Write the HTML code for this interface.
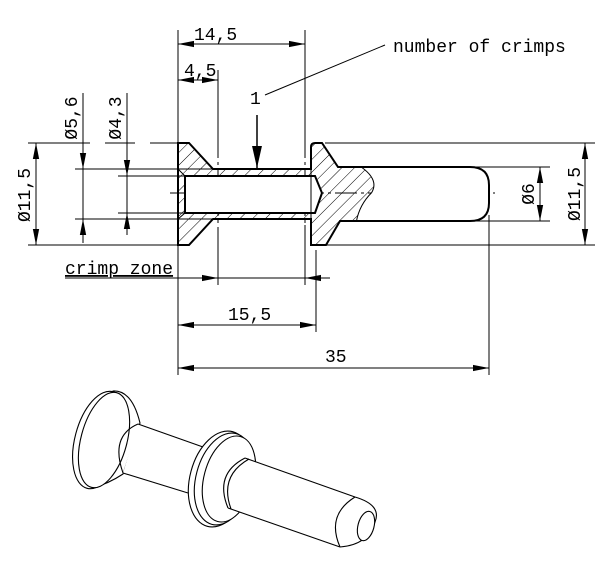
<!DOCTYPE html>
<html><head><style>html,body{margin:0;padding:0;background:#fff}svg{display:block}text{font-family:"Liberation Mono",monospace;font-size:18px;fill:#000}</style></head>
<body>
<svg width="609" height="581" viewBox="0 0 609 581" xmlns="http://www.w3.org/2000/svg">
<defs>
<pattern id="h" patternUnits="userSpaceOnUse" width="9" height="9" patternTransform="rotate(45)"><line x1="0" y1="0" x2="0" y2="9" stroke="#000" stroke-width="1"/></pattern>
<marker id="a" viewBox="0 0 10 10" refX="10" refY="5" markerWidth="16" markerHeight="7" markerUnits="userSpaceOnUse" orient="auto-start-reverse" preserveAspectRatio="none"><path d="M0,0.5 L10,5 L0,9.5 Z" fill="#000"/></marker>
<marker id="b" viewBox="0 0 10 10" refX="10" refY="5" markerWidth="22" markerHeight="11" markerUnits="userSpaceOnUse" orient="auto" preserveAspectRatio="none"><path d="M0,0.5 L10,5 L0,9.5 Z" fill="#000"/></marker>
</defs>
<g stroke="#000" stroke-width="1" fill="none">
<line x1="178" y1="30" x2="178" y2="375"/>
<line x1="305" y1="30" x2="305" y2="140"/>
<line x1="218" y1="70" x2="218" y2="140"/>
<line x1="316" y1="250" x2="316" y2="332"/>
<line x1="489" y1="215" x2="489" y2="375"/>
<line x1="28" y1="143" x2="90" y2="143"/><line x1="105" y1="143" x2="135" y2="143"/><line x1="150" y1="143" x2="178" y2="143"/>
<line x1="28" y1="245" x2="178" y2="245"/>
<line x1="75" y1="169" x2="213" y2="169"/><line x1="75" y1="219" x2="213" y2="219"/>
<line x1="118" y1="176" x2="185" y2="176"/><line x1="118" y1="213" x2="185" y2="213"/>
<line x1="325" y1="143" x2="595" y2="143"/><line x1="325" y1="245" x2="595" y2="245"/>
<line x1="470" y1="167" x2="550" y2="167"/><line x1="470" y1="221" x2="550" y2="221"/>
<line x1="218" y1="245" x2="218" y2="285"/><line x1="305" y1="225" x2="305" y2="285"/>
<line x1="170" y1="193" x2="495" y2="193" stroke-dasharray="22,4,3,4"/>
<line x1="218" y1="140" x2="218" y2="250" stroke-dasharray="18,4,3,4"/>
<line x1="305" y1="140" x2="305" y2="225" stroke-dasharray="18,4,3,4"/>
<line x1="470" y1="167" x2="470" y2="221"/>
<line x1="178" y1="44" x2="305" y2="44" marker-start="url(#a)" marker-end="url(#a)"/>
<line x1="178" y1="80" x2="218" y2="80" marker-start="url(#a)" marker-end="url(#a)"/>
<line x1="178" y1="325" x2="316" y2="325" marker-start="url(#a)" marker-end="url(#a)"/>
<line x1="178" y1="368" x2="489" y2="368" marker-start="url(#a)" marker-end="url(#a)"/>
<line x1="36" y1="143" x2="36" y2="245" marker-start="url(#a)" marker-end="url(#a)"/>
<line x1="83" y1="93" x2="83" y2="169" marker-end="url(#a)"/><line x1="83" y1="243" x2="83" y2="219" marker-end="url(#a)"/><line x1="83" y1="169" x2="83" y2="219"/>
<line x1="127" y1="93" x2="127" y2="176" marker-end="url(#a)"/><line x1="127" y1="235" x2="127" y2="213" marker-end="url(#a)"/><line x1="127" y1="176" x2="127" y2="213"/>
<line x1="540" y1="167" x2="540" y2="221" marker-start="url(#a)" marker-end="url(#a)"/>
<line x1="585" y1="143" x2="585" y2="245" marker-start="url(#a)" marker-end="url(#a)"/>
<line x1="65" y1="278" x2="330" y2="278"/>
<line x1="200" y1="278" x2="218" y2="278" marker-end="url(#a)"/>
<line x1="323" y1="278" x2="305" y2="278" marker-end="url(#a)"/>
<line x1="265" y1="95" x2="385" y2="45"/>
<line x1="257" y1="115" x2="257" y2="168" stroke-width="1.5" marker-end="url(#b)"/>
</g>
<g stroke="#000" stroke-width="2" fill="url(#h)">
<path d="M178,143 L189,143 L213,169 L311,169 L311,147 Q311,143 315,143 L322,143 L338,167 L362,167 Q380,180 372,193 Q360,205 357,221 L340,221 L326,245 L311,245 L311,219 L213,219 L189,245 L178,245 Z"/>
</g>
<g stroke="#000" stroke-width="2" fill="#fff">
<path d="M185,176 L315,176 L322,193 L315,213 L185,213 Z"/>
<path d="M338,167 L470,167 Q489,167 489,185 L489,203 Q489,221 470,221 L357,221 Q360,205 372,193 Q380,180 362,167 Z" stroke="none"/>
<path d="M338,167 L470,167 Q489,167 489,185 L489,203 Q489,221 470,221 L340,221" fill="none"/>
<line x1="178" y1="169" x2="185" y2="176" stroke-width="1"/><line x1="178" y1="219" x2="185" y2="213" stroke-width="1"/>
</g>
<line x1="311" y1="169" x2="311" y2="219" stroke="#000" stroke-width="1"/>
<text x="194" y="40">14,5</text>
<text x="184" y="76">4,5</text>
<text x="250" y="104">1</text>
<text x="393" y="52">number of crimps</text>
<text x="65" y="274" style="text-decoration:underline">crimp zone</text>
<text x="228" y="320">15,5</text>
<text x="325" y="362">35</text>
<text transform="translate(30,195) rotate(-90)" text-anchor="middle">Ø11,5</text>
<text transform="translate(77,118) rotate(-90)" text-anchor="middle">Ø5,6</text>
<text transform="translate(121,118) rotate(-90)" text-anchor="middle">Ø4,3</text>
<text transform="translate(534,194) rotate(-90)" text-anchor="middle">Ø6</text>
<text transform="translate(580,194) rotate(-90)" text-anchor="middle">Ø11,5</text>
<!-- isometric -->
<g stroke="#000" stroke-width="1.1" fill="#fff">
<!-- head -->
<path d="M113,391 Q132,390 140,423 L123,474 Q108,484 92,488 Z"/>
<ellipse cx="100" cy="440" rx="25" ry="50" transform="rotate(15 100 440)"/>
<ellipse cx="104" cy="440" rx="23" ry="49" transform="rotate(15 104 440)"/>
<!-- shank -->
<path d="M138,424 L203,447 L188,493 L123,473 Z" stroke="none"/>
<line x1="138" y1="424" x2="203" y2="447"/><line x1="123" y1="473" x2="188" y2="493"/>
<path d="M138,424 Q110,436 123,473" fill="none"/>
<!-- flange -->
<ellipse cx="220" cy="479" rx="30" ry="49" transform="rotate(15 220 479)"/>
<ellipse cx="224" cy="479" rx="28" ry="47" transform="rotate(15 224 479)"/>
<ellipse cx="229" cy="479" rx="25" ry="44" transform="rotate(15 229 479)"/>
<!-- pin -->
<path d="M245,458 L355,497 L340,547 L228,508 Q212,480 245,458 Z" stroke="none"/>
<line x1="245" y1="458" x2="355" y2="497"/><line x1="228" y1="508" x2="340" y2="547"/>
<path d="M245,458 Q214,474 228,508" fill="none"/>
<path d="M249,459 Q219,476 231,509" fill="none"/>
<path d="M355,497 Q382,505 375,522 Q368,545 340,547" />
<path d="M355,497 Q326,515 340,547" fill="none"/>
<ellipse cx="366" cy="526" rx="8" ry="15" transform="rotate(15 366 526)"/>
</g>
</svg>
</body></html>
